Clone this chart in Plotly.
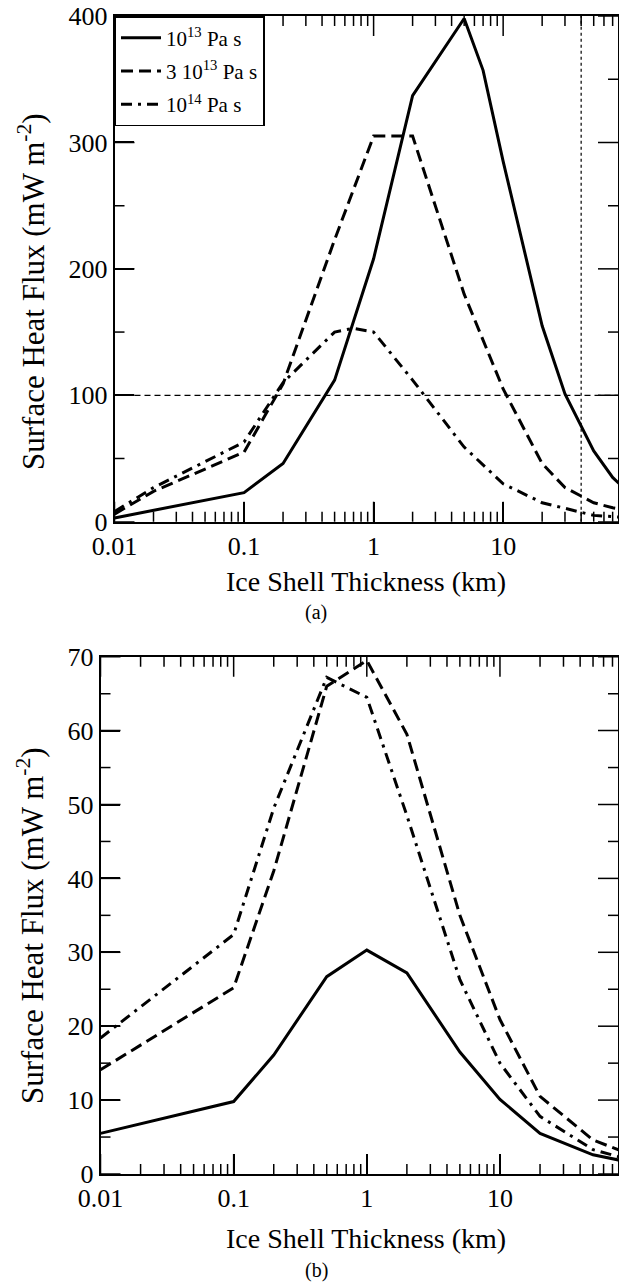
import math
import plotly.graph_objects as go

# ---------------- data: panel (a) ----------------
a_x_solid = [0.01, 0.1, 0.2, 0.5, 1, 2, 5, 7, 10, 20, 30, 40, 50, 70, 100]
a_y_solid = [3, 23, 46, 112, 208, 337, 398, 357, 285, 155, 101, 75, 56, 35, 20]

a_x_dash = [0.01, 0.02, 0.1, 0.2, 0.5, 1, 2, 5, 10, 20, 30, 50, 70, 100]
a_y_dash = [6, 24, 55, 109, 223, 305, 305, 180, 105, 46, 27, 15, 11, 8]

a_x_dashdot = [0.01, 0.02, 0.1, 0.2, 0.5, 0.7, 1, 2, 5, 10, 20, 50, 100]
a_y_dashdot = [8, 27, 63, 110, 150, 153, 150, 112, 59, 30, 15, 5, 3]

# ---------------- data: panel (b) ----------------
b_x = [0.01, 0.1, 0.2, 0.5, 1, 2, 5, 10, 20, 50, 100]
b_y_solid = [5.5, 9.8, 16.1, 26.7, 30.3, 27.2, 16.5, 10.1, 5.5, 2.6, 1.5]
b_y_dash = [14.1, 25.2, 41, 66, 69.5, 59.5, 35, 20.9, 10.5, 4.6, 2.5]
b_y_dashdot = [18.4, 32.4, 49.5, 67.2, 64.5, 48.5, 26.3, 15, 7.8, 3.3, 1.8]

series_names = ["10<sup>13</sup> Pa s", "3 10<sup>13</sup> Pa s", "10<sup>14</sup> Pa s"]

x_range_km = [0.01, 77]
a_yrange = [0, 400]
b_yrange = [0, 70]
a_major_y = [0, 100, 200, 300, 400]
a_minor_y = [50, 150, 250, 350]
b_major_y = [0, 10, 20, 30, 40, 50, 60, 70]
b_minor_y = [5, 15, 25, 35, 45, 55, 65]
major_x = [0.01, 0.1, 1, 10]
major_x_text = ["0.01", "0.1", "1", "10"]

ref_flux_a = 100        # horizontal dashed reference line (a)
ref_thickness_a = 40    # vertical dotted reference line (a)

x_title = "Ice Shell Thickness (km)"
y_title = "Surface Heat Flux (mW m<sup>-2</sup>)"

# ---------------- styling ----------------
FONT = "Liberation Serif, Times New Roman, Times, DejaVu Serif, serif"
W, H = 619, 1283
dashes = ["solid", "12px,6px", "11px,6px,3px,6px"]
LW = 3
MAJOR_LEN, MINOR_LEN = 20, 10

minor_x = [m * 10 ** e for e in range(-2, 2) for m in range(2, 10)
           if m * 10 ** e <= x_range_km[1]]

fig = go.Figure()

a_sets = [(a_x_solid, a_y_solid), (a_x_dash, a_y_dash), (a_x_dashdot, a_y_dashdot)]
for i, (xs, ys) in enumerate(a_sets):
    fig.add_trace(go.Scatter(x=xs, y=ys, mode="lines", name=series_names[i],
                             line=dict(color="black", width=LW, dash=dashes[i]),
                             xaxis="x", yaxis="y", legendgroup=f"g{i}", showlegend=True))

b_sets = [b_y_solid, b_y_dash, b_y_dashdot]
for i, ys in enumerate(b_sets):
    fig.add_trace(go.Scatter(x=b_x, y=ys, mode="lines", name=series_names[i],
                             line=dict(color="black", width=LW, dash=dashes[i]),
                             xaxis="x2", yaxis="y2", legendgroup=f"g{i}", showlegend=False))

# reference lines in panel (a)
fig.add_shape(type="line", xref="x", yref="y domain", x0=ref_thickness_a, x1=ref_thickness_a,
              y0=0, y1=1, line=dict(color="black", width=1.2, dash="dot"))
fig.add_shape(type="line", xref="x domain", yref="y", x0=0, x1=1, y0=ref_flux_a, y1=ref_flux_a,
              line=dict(color="black", width=1.2, dash="6px,4px"))


def px_x(p):
    return p / W


def px_y(p):
    return 1 - p / H


dom_xa = [px_x(114.5), px_x(618)]
dom_xb = [px_x(100.5), px_x(618)]
dom_ya = [px_y(521.7), px_y(16)]
dom_yb = [px_y(1174), px_y(656.7)]

# inward tick marks on all four sides (drawn as axis-referenced decorations)
tick_line = dict(color="black", width=1.5)
panels = [("x", "y", dom_xa, dom_ya, a_major_y, a_minor_y),
          ("x2", "y2", dom_xb, dom_yb, b_major_y, b_minor_y)]
for xr, yr, dx, dy, ymaj, ymin in panels:
    w_px = (dx[1] - dx[0]) * W
    h_px = (dy[1] - dy[0]) * H
    for vals, L in ((major_x, MAJOR_LEN), (minor_x, MINOR_LEN)):
        f = L / h_px
        for v in vals:
            fig.add_shape(type="line", xref=xr, yref=f"{yr} domain", x0=v, x1=v,
                          y0=0, y1=f, line=tick_line)
            fig.add_shape(type="line", xref=xr, yref=f"{yr} domain", x0=v, x1=v,
                          y0=1, y1=1 - f, line=tick_line)
    for vals, L in ((ymaj, MAJOR_LEN), (ymin, MINOR_LEN)):
        f = L / w_px
        for v in vals:
            fig.add_shape(type="line", xref=f"{xr} domain", yref=yr, x0=0, x1=f,
                          y0=v, y1=v, line=tick_line)
            fig.add_shape(type="line", xref=f"{xr} domain", yref=yr, x0=1, x1=1 - f,
                          y0=v, y1=v, line=tick_line)

common_axis = dict(showline=True, linecolor="#000000", linewidth=1.5, mirror=True,
                   ticks="inside", tickcolor="#000000", tickwidth=1.5, showgrid=False,
                   zeroline=False, automargin=False,
                   tickfont=dict(family=FONT, size=26, color="black"))

xrange_log = [math.log10(x_range_km[0]), math.log10(x_range_km[1])]
xa = dict(common_axis, type="log", range=xrange_log,
          tickmode="array", tickvals=major_x, ticktext=major_x_text, ticklen=MAJOR_LEN)

fig.update_layout(
    template="none",
    width=W, height=H, margin=dict(l=0, r=0, t=0, b=0, pad=0, autoexpand=False),
    paper_bgcolor="white", plot_bgcolor="white",
    font=dict(family=FONT, color="black"),
    xaxis=dict(xa, domain=dom_xa, anchor="y"),
    yaxis=dict(common_axis, range=a_yrange, domain=dom_ya, anchor="x",
               tickmode="array", tickvals=a_major_y, ticklen=MAJOR_LEN),
    xaxis2=dict(xa, domain=dom_xb, anchor="y2"),
    yaxis2=dict(common_axis, range=b_yrange, domain=dom_yb, anchor="x2",
                tickmode="array", tickvals=b_major_y, ticklen=MAJOR_LEN),
    legend=dict(x=px_x(114.5), y=px_y(16), xanchor="left", yanchor="top",
                bordercolor="black", borderwidth=1.5, bgcolor="white",
                font=dict(family=FONT, size=21, color="black"),
                itemwidth=40, tracegroupgap=3),
    showlegend=True,
)

annots = [
    dict(text=x_title, x=px_x(366), y=px_y(581)),
    dict(text="(a)", x=px_x(316), y=px_y(613), size=20),
    dict(text=y_title, x=px_x(31), y=px_y(292), angle=-90, size=31),
    dict(text=x_title, x=px_x(366), y=px_y(1238)),
    dict(text="(b)", x=px_x(316), y=px_y(1270), size=20),
    dict(text=y_title, x=px_x(30), y=px_y(926), angle=-90, size=31),
]
for a in annots:
    fig.add_annotation(text=a["text"], x=a["x"], y=a["y"], xref="paper", yref="paper",
                       xanchor="center", yanchor="middle", showarrow=False,
                       textangle=a.get("angle", 0),
                       font=dict(family=FONT, size=a.get("size", 28), color="black"))

fig.write_html("out.html", config={"displayModeBar": False},
               post_script="document.body.style.margin='0';document.body.style.overflow='hidden';")
